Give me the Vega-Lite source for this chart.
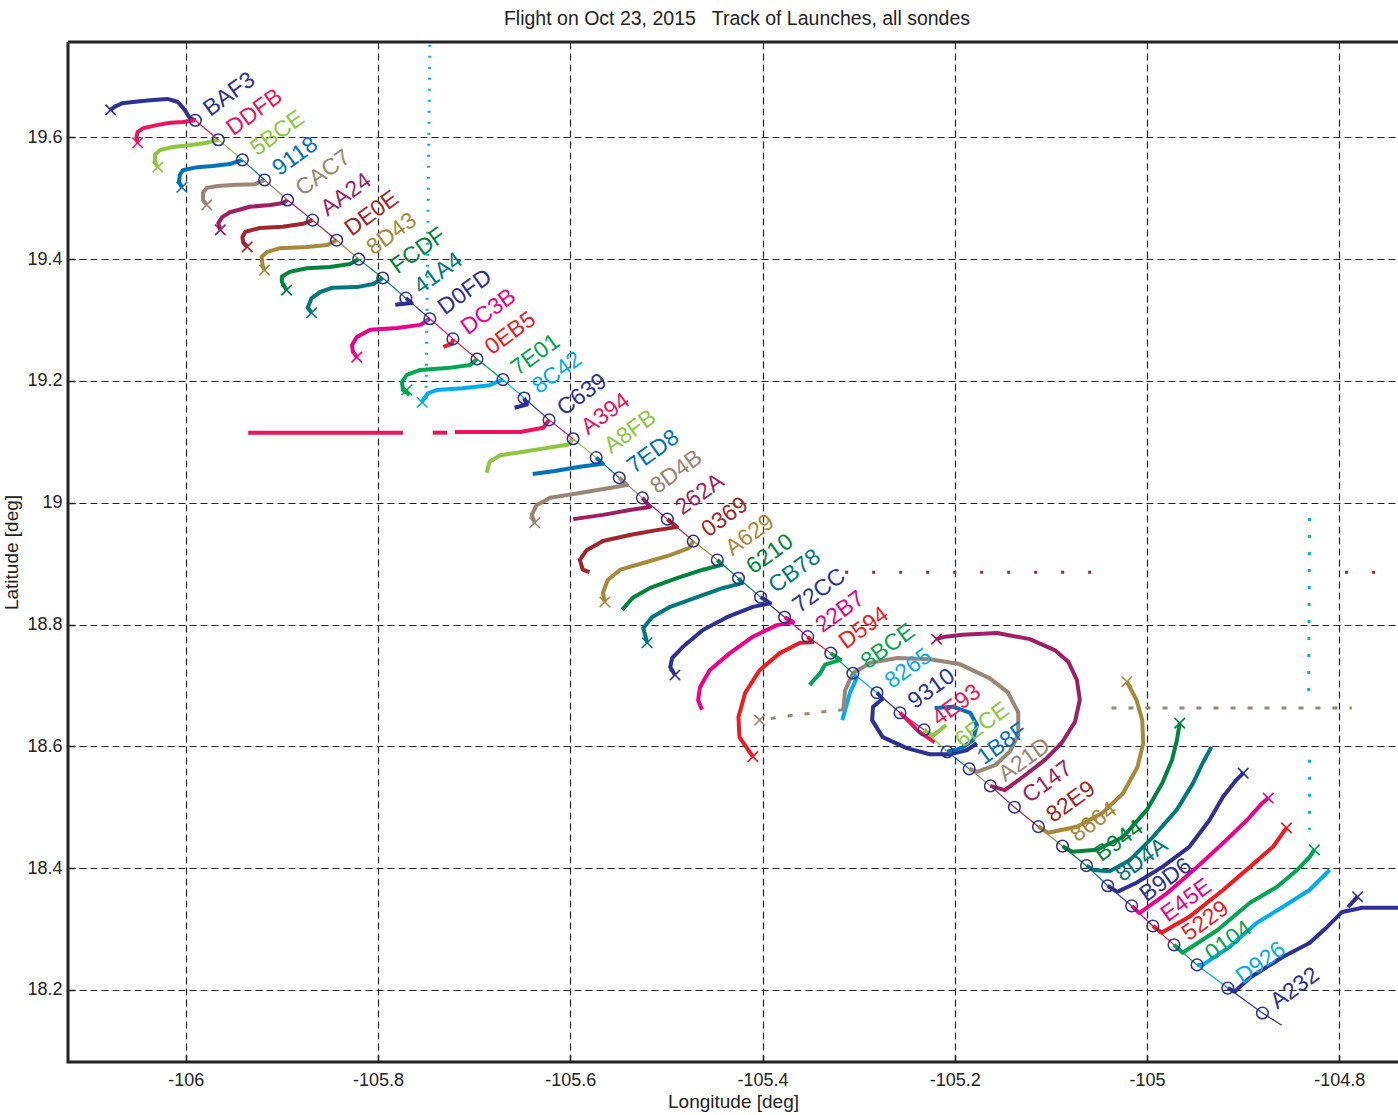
{
"$schema":"https://vega.github.io/schema/vega-lite/v6.json",
"width":1330,"height":1020,
"autosize":{"type":"none"},
"padding":{"left":68,"top":42,"right":0,"bottom":53},
"background":"white",
"title":{"text":"Flight on Oct 23, 2015 \u00a0 Track of Launches, all sondes","fontSize":19.5,"font":"Liberation Sans","fontWeight":"normal","color":"#222","offset":13,"anchor":"middle","dx":4},
"config":{"view":{"stroke":"#222","strokeWidth":3,"strokeDash":[1330,1020,2350,0]}},
"datasets":{
"launch":[
{"n":1,"id":"BAF3","lon":-105.990,"lat":19.628},{"n":2,"id":"DDFB","lon":-105.966,"lat":19.596},{"n":3,"id":"5BCE","lon":-105.941,"lat":19.563},{"n":4,"id":"9118","lon":-105.918,"lat":19.530},{"n":5,"id":"CAC7","lon":-105.894,"lat":19.497},{"n":6,"id":"AA24","lon":-105.868,"lat":19.464},{"n":7,"id":"DE0E","lon":-105.843,"lat":19.431},{"n":8,"id":"8D43","lon":-105.820,"lat":19.400},{"n":9,"id":"FCDF","lon":-105.795,"lat":19.369},{"n":10,"id":"41A4","lon":-105.771,"lat":19.336},
{"n":11,"id":"D0FD","lon":-105.746,"lat":19.302},{"n":12,"id":"DC3B","lon":-105.722,"lat":19.269},{"n":13,"id":"0EB5","lon":-105.697,"lat":19.236},{"n":14,"id":"7E01","lon":-105.670,"lat":19.202},{"n":15,"id":"8C42","lon":-105.648,"lat":19.172},{"n":16,"id":"C639","lon":-105.622,"lat":19.136},{"n":17,"id":"A394","lon":-105.597,"lat":19.105},{"n":18,"id":"A8FB","lon":-105.573,"lat":19.074},{"n":19,"id":"7ED8","lon":-105.549,"lat":19.041},{"n":20,"id":"8D4B","lon":-105.525,"lat":19.008},
{"n":21,"id":"262A","lon":-105.499,"lat":18.973},{"n":22,"id":"0369","lon":-105.472,"lat":18.937},{"n":23,"id":"A629","lon":-105.447,"lat":18.906},{"n":24,"id":"6210","lon":-105.425,"lat":18.876},{"n":25,"id":"CB78","lon":-105.402,"lat":18.845},{"n":26,"id":"72CC","lon":-105.377,"lat":18.812},{"n":27,"id":"22B7","lon":-105.353,"lat":18.780},{"n":28,"id":"D594","lon":-105.329,"lat":18.753},{"n":29,"id":"8BCE","lon":-105.306,"lat":18.720},{"n":30,"id":"8265","lon":-105.281,"lat":18.688},
{"n":31,"id":"9310","lon":-105.257,"lat":18.655},{"n":32,"id":"4E93","lon":-105.232,"lat":18.627},{"n":33,"id":"6ECE","lon":-105.208,"lat":18.591},{"n":34,"id":"1B8F","lon":-105.185,"lat":18.563},{"n":35,"id":"A21D","lon":-105.163,"lat":18.535},{"n":36,"id":"C147","lon":-105.138,"lat":18.500},{"n":37,"id":"82E9","lon":-105.113,"lat":18.468},{"n":38,"id":"8664","lon":-105.088,"lat":18.436},{"n":39,"id":"B944","lon":-105.063,"lat":18.404},{"n":40,"id":"8D4A","lon":-105.041,"lat":18.371},
{"n":41,"id":"B9D6","lon":-105.016,"lat":18.338},{"n":42,"id":"E45E","lon":-104.994,"lat":18.305},{"n":43,"id":"5229","lon":-104.972,"lat":18.274},{"n":44,"id":"0104","lon":-104.948,"lat":18.241},{"n":45,"id":"D926","lon":-104.916,"lat":18.203},{"n":46,"id":"A232","lon":-104.880,"lat":18.162}
],
"traj":[
{"id":"BAF3","k":0,"lon":-105.990,"lat":19.628},{"id":"BAF3","k":1,"lon":-105.996,"lat":19.632},{"id":"BAF3","k":2,"lon":-106.001,"lat":19.645},{"id":"BAF3","k":3,"lon":-106.008,"lat":19.658},{"id":"BAF3","k":4,"lon":-106.019,"lat":19.663},{"id":"BAF3","k":5,"lon":-106.037,"lat":19.661},{"id":"BAF3","k":6,"lon":-106.055,"lat":19.658},{"id":"BAF3","k":7,"lon":-106.066,"lat":19.656},{"id":"BAF3","k":8,"lon":-106.074,"lat":19.650},{"id":"BAF3","k":9,"lon":-106.078,"lat":19.645},
{"id":"DDFB","k":0,"lon":-105.990,"lat":19.628},{"id":"DDFB","k":1,"lon":-106.003,"lat":19.625},{"id":"DDFB","k":2,"lon":-106.016,"lat":19.624},{"id":"DDFB","k":3,"lon":-106.030,"lat":19.620},{"id":"DDFB","k":4,"lon":-106.044,"lat":19.615},{"id":"DDFB","k":5,"lon":-106.050,"lat":19.609},{"id":"DDFB","k":6,"lon":-106.051,"lat":19.601},{"id":"DDFB","k":7,"lon":-106.050,"lat":19.591},
{"id":"5BCE","k":0,"lon":-105.966,"lat":19.596},{"id":"5BCE","k":1,"lon":-105.978,"lat":19.591},{"id":"5BCE","k":2,"lon":-105.996,"lat":19.587},{"id":"5BCE","k":3,"lon":-106.013,"lat":19.584},{"id":"5BCE","k":4,"lon":-106.027,"lat":19.579},{"id":"5BCE","k":5,"lon":-106.032,"lat":19.571},{"id":"5BCE","k":6,"lon":-106.032,"lat":19.560},{"id":"5BCE","k":7,"lon":-106.029,"lat":19.551},
{"id":"9118","k":0,"lon":-105.941,"lat":19.563},{"id":"9118","k":1,"lon":-105.954,"lat":19.556},{"id":"9118","k":2,"lon":-105.972,"lat":19.553},{"id":"9118","k":3,"lon":-105.988,"lat":19.551},{"id":"9118","k":4,"lon":-106.003,"lat":19.546},{"id":"9118","k":5,"lon":-106.006,"lat":19.538},{"id":"9118","k":6,"lon":-106.007,"lat":19.527},{"id":"9118","k":7,"lon":-106.004,"lat":19.518},
{"id":"CAC7","k":0,"lon":-105.918,"lat":19.530},{"id":"CAC7","k":1,"lon":-105.928,"lat":19.523},{"id":"CAC7","k":2,"lon":-105.947,"lat":19.522},{"id":"CAC7","k":3,"lon":-105.967,"lat":19.520},{"id":"CAC7","k":4,"lon":-105.978,"lat":19.517},{"id":"CAC7","k":5,"lon":-105.982,"lat":19.509},{"id":"CAC7","k":6,"lon":-105.982,"lat":19.497},{"id":"CAC7","k":7,"lon":-105.978,"lat":19.489},
{"id":"AA24","k":0,"lon":-105.894,"lat":19.497},{"id":"AA24","k":1,"lon":-105.899,"lat":19.492},{"id":"AA24","k":2,"lon":-105.912,"lat":19.489},{"id":"AA24","k":3,"lon":-105.933,"lat":19.486},{"id":"AA24","k":4,"lon":-105.954,"lat":19.477},{"id":"AA24","k":5,"lon":-105.962,"lat":19.469},{"id":"AA24","k":6,"lon":-105.966,"lat":19.459},{"id":"AA24","k":7,"lon":-105.964,"lat":19.448},
{"id":"DE0E","k":0,"lon":-105.868,"lat":19.464},{"id":"DE0E","k":1,"lon":-105.878,"lat":19.458},{"id":"DE0E","k":2,"lon":-105.899,"lat":19.453},{"id":"DE0E","k":3,"lon":-105.923,"lat":19.451},{"id":"DE0E","k":4,"lon":-105.938,"lat":19.445},{"id":"DE0E","k":5,"lon":-105.941,"lat":19.436},{"id":"DE0E","k":6,"lon":-105.940,"lat":19.427},{"id":"DE0E","k":7,"lon":-105.936,"lat":19.420},
{"id":"8D43","k":0,"lon":-105.843,"lat":19.431},{"id":"8D43","k":1,"lon":-105.853,"lat":19.423},{"id":"8D43","k":2,"lon":-105.874,"lat":19.420},{"id":"8D43","k":3,"lon":-105.902,"lat":19.418},{"id":"8D43","k":4,"lon":-105.915,"lat":19.412},{"id":"8D43","k":5,"lon":-105.921,"lat":19.404},{"id":"8D43","k":6,"lon":-105.920,"lat":19.390},{"id":"8D43","k":7,"lon":-105.918,"lat":19.382},
{"id":"FCDF","k":0,"lon":-105.820,"lat":19.400},{"id":"FCDF","k":1,"lon":-105.829,"lat":19.392},{"id":"FCDF","k":2,"lon":-105.850,"lat":19.387},{"id":"FCDF","k":3,"lon":-105.874,"lat":19.385},{"id":"FCDF","k":4,"lon":-105.892,"lat":19.379},{"id":"FCDF","k":5,"lon":-105.900,"lat":19.371},{"id":"FCDF","k":6,"lon":-105.900,"lat":19.363},{"id":"FCDF","k":7,"lon":-105.895,"lat":19.349},
{"id":"41A4","k":0,"lon":-105.795,"lat":19.369},{"id":"41A4","k":1,"lon":-105.805,"lat":19.359},{"id":"41A4","k":2,"lon":-105.822,"lat":19.354},{"id":"41A4","k":3,"lon":-105.847,"lat":19.353},{"id":"41A4","k":4,"lon":-105.860,"lat":19.346},{"id":"41A4","k":5,"lon":-105.869,"lat":19.336},{"id":"41A4","k":6,"lon":-105.873,"lat":19.320},{"id":"41A4","k":7,"lon":-105.869,"lat":19.312},
{"id":"D0FD","k":0,"lon":-105.771,"lat":19.336},{"id":"D0FD","k":1,"lon":-105.765,"lat":19.328},{"id":"D0FD","k":2,"lon":-105.782,"lat":19.325},
{"id":"DC3B","k":0,"lon":-105.746,"lat":19.302},{"id":"DC3B","k":1,"lon":-105.756,"lat":19.292},{"id":"DC3B","k":2,"lon":-105.780,"lat":19.287},{"id":"DC3B","k":3,"lon":-105.808,"lat":19.284},{"id":"DC3B","k":4,"lon":-105.822,"lat":19.272},{"id":"DC3B","k":5,"lon":-105.827,"lat":19.259},{"id":"DC3B","k":6,"lon":-105.826,"lat":19.248},{"id":"DC3B","k":7,"lon":-105.822,"lat":19.239},
{"id":"0EB5","k":0,"lon":-105.722,"lat":19.269},{"id":"0EB5","k":1,"lon":-105.723,"lat":19.261},{"id":"0EB5","k":2,"lon":-105.732,"lat":19.256},
{"id":"7E01","k":0,"lon":-105.697,"lat":19.236},{"id":"7E01","k":1,"lon":-105.704,"lat":19.226},{"id":"7E01","k":2,"lon":-105.728,"lat":19.221},{"id":"7E01","k":3,"lon":-105.756,"lat":19.218},{"id":"7E01","k":4,"lon":-105.770,"lat":19.210},{"id":"7E01","k":5,"lon":-105.775,"lat":19.198},{"id":"7E01","k":6,"lon":-105.774,"lat":19.185},{"id":"7E01","k":7,"lon":-105.767,"lat":19.177},
{"id":"8C42","k":0,"lon":-105.670,"lat":19.202},{"id":"8C42","k":1,"lon":-105.684,"lat":19.193},{"id":"8C42","k":2,"lon":-105.712,"lat":19.188},{"id":"8C42","k":3,"lon":-105.739,"lat":19.185},{"id":"8C42","k":4,"lon":-105.748,"lat":19.180},{"id":"8C42","k":5,"lon":-105.753,"lat":19.169},{"id":"8C42","k":6,"lon":-105.754,"lat":19.165},
{"id":"C639","k":0,"lon":-105.648,"lat":19.172},{"id":"C639","k":1,"lon":-105.645,"lat":19.161},{"id":"C639","k":2,"lon":-105.658,"lat":19.156},
{"id":"A394","seg":"a","k":0,"lon":-105.622,"lat":19.136},{"id":"A394","seg":"a","k":1,"lon":-105.628,"lat":19.123},{"id":"A394","seg":"a","k":2,"lon":-105.652,"lat":19.116},{"id":"A394","seg":"a","k":3,"lon":-105.684,"lat":19.116},{"id":"A394","seg":"a","k":4,"lon":-105.720,"lat":19.116},
{"id":"A394","seg":"b","k":5,"lon":-105.728,"lat":19.115},{"id":"A394","seg":"b","k":6,"lon":-105.743,"lat":19.115},
{"id":"A394","seg":"c","k":7,"lon":-105.774,"lat":19.115},{"id":"A394","seg":"c","k":8,"lon":-105.935,"lat":19.115},
{"id":"A8FB","k":0,"lon":-105.597,"lat":19.105},{"id":"A8FB","k":1,"lon":-105.603,"lat":19.095},{"id":"A8FB","k":2,"lon":-105.624,"lat":19.090},{"id":"A8FB","k":3,"lon":-105.652,"lat":19.083},{"id":"A8FB","k":4,"lon":-105.673,"lat":19.078},{"id":"A8FB","k":5,"lon":-105.684,"lat":19.067},{"id":"A8FB","k":6,"lon":-105.687,"lat":19.049},
{"id":"7ED8","k":0,"lon":-105.573,"lat":19.074},{"id":"7ED8","k":1,"lon":-105.566,"lat":19.064},{"id":"7ED8","k":2,"lon":-105.590,"lat":19.059},{"id":"7ED8","k":3,"lon":-105.616,"lat":19.052},{"id":"7ED8","k":4,"lon":-105.639,"lat":19.047},
{"id":"8D4B","k":0,"lon":-105.549,"lat":19.041},{"id":"8D4B","k":1,"lon":-105.541,"lat":19.029},{"id":"8D4B","k":2,"lon":-105.559,"lat":19.024},{"id":"8D4B","k":3,"lon":-105.590,"lat":19.016},{"id":"8D4B","k":4,"lon":-105.621,"lat":19.008},{"id":"8D4B","k":5,"lon":-105.635,"lat":18.996},{"id":"8D4B","k":6,"lon":-105.640,"lat":18.980},{"id":"8D4B","k":7,"lon":-105.637,"lat":18.967},
{"id":"262A","k":0,"lon":-105.525,"lat":19.008},{"id":"262A","k":1,"lon":-105.517,"lat":18.993},{"id":"262A","k":2,"lon":-105.538,"lat":18.988},{"id":"262A","k":3,"lon":-105.566,"lat":18.980},{"id":"262A","k":4,"lon":-105.597,"lat":18.973},
{"id":"0369","k":0,"lon":-105.499,"lat":18.973},{"id":"0369","k":1,"lon":-105.489,"lat":18.960},{"id":"0369","k":2,"lon":-105.510,"lat":18.955},{"id":"0369","k":3,"lon":-105.538,"lat":18.947},{"id":"0369","k":4,"lon":-105.566,"lat":18.937},{"id":"0369","k":5,"lon":-105.583,"lat":18.922},{"id":"0369","k":6,"lon":-105.590,"lat":18.906},{"id":"0369","k":7,"lon":-105.587,"lat":18.890},{"id":"0369","k":8,"lon":-105.580,"lat":18.886},
{"id":"A629","k":0,"lon":-105.472,"lat":18.937},{"id":"A629","k":1,"lon":-105.476,"lat":18.926},{"id":"A629","k":2,"lon":-105.496,"lat":18.914},{"id":"A629","k":3,"lon":-105.524,"lat":18.901},{"id":"A629","k":4,"lon":-105.548,"lat":18.890},{"id":"A629","k":5,"lon":-105.561,"lat":18.873},{"id":"A629","k":6,"lon":-105.566,"lat":18.852},{"id":"A629","k":7,"lon":-105.564,"lat":18.837},
{"id":"6210","k":0,"lon":-105.447,"lat":18.906},{"id":"6210","k":1,"lon":-105.442,"lat":18.898},{"id":"6210","k":2,"lon":-105.462,"lat":18.890},{"id":"6210","k":3,"lon":-105.489,"lat":18.876},{"id":"6210","k":4,"lon":-105.517,"lat":18.860},{"id":"6210","k":5,"lon":-105.535,"lat":18.844},{"id":"6210","k":6,"lon":-105.546,"lat":18.824},
{"id":"CB78","k":0,"lon":-105.425,"lat":18.876},{"id":"CB78","k":1,"lon":-105.421,"lat":18.868},{"id":"CB78","k":2,"lon":-105.441,"lat":18.860},{"id":"CB78","k":3,"lon":-105.468,"lat":18.845},{"id":"CB78","k":4,"lon":-105.496,"lat":18.829},{"id":"CB78","k":5,"lon":-105.515,"lat":18.812},{"id":"CB78","k":6,"lon":-105.524,"lat":18.794},{"id":"CB78","k":7,"lon":-105.520,"lat":18.770},
{"id":"72CC","k":0,"lon":-105.402,"lat":18.845},{"id":"72CC","k":1,"lon":-105.392,"lat":18.835},{"id":"72CC","k":2,"lon":-105.410,"lat":18.829},{"id":"72CC","k":3,"lon":-105.437,"lat":18.812},{"id":"72CC","k":4,"lon":-105.462,"lat":18.791},{"id":"72CC","k":5,"lon":-105.483,"lat":18.763},{"id":"72CC","k":6,"lon":-105.494,"lat":18.745},{"id":"72CC","k":7,"lon":-105.496,"lat":18.730},{"id":"72CC","k":8,"lon":-105.491,"lat":18.717},
{"id":"22B7","k":0,"lon":-105.377,"lat":18.812},{"id":"22B7","k":1,"lon":-105.368,"lat":18.804},{"id":"22B7","k":2,"lon":-105.385,"lat":18.799},{"id":"22B7","k":3,"lon":-105.410,"lat":18.780},{"id":"22B7","k":4,"lon":-105.434,"lat":18.753},{"id":"22B7","k":5,"lon":-105.455,"lat":18.725},{"id":"22B7","k":6,"lon":-105.465,"lat":18.697},{"id":"22B7","k":7,"lon":-105.467,"lat":18.676},{"id":"22B7","k":8,"lon":-105.463,"lat":18.660},
{"id":"D594","k":0,"lon":-105.353,"lat":18.780},{"id":"D594","k":1,"lon":-105.348,"lat":18.771},{"id":"D594","k":2,"lon":-105.361,"lat":18.770},{"id":"D594","k":3,"lon":-105.382,"lat":18.753},{"id":"D594","k":4,"lon":-105.403,"lat":18.725},{"id":"D594","k":5,"lon":-105.418,"lat":18.688},{"id":"D594","k":6,"lon":-105.425,"lat":18.648},{"id":"D594","k":7,"lon":-105.424,"lat":18.615},{"id":"D594","k":8,"lon":-105.410,"lat":18.583},
{"id":"8BCE","k":0,"lon":-105.329,"lat":18.753},{"id":"8BCE","k":1,"lon":-105.319,"lat":18.742},{"id":"8BCE","k":2,"lon":-105.335,"lat":18.734},{"id":"8BCE","k":3,"lon":-105.340,"lat":18.720},{"id":"8BCE","k":4,"lon":-105.351,"lat":18.701},
{"id":"8265","k":0,"lon":-105.306,"lat":18.720},{"id":"8265","k":1,"lon":-105.302,"lat":18.712},{"id":"8265","k":2,"lon":-105.309,"lat":18.688},{"id":"8265","k":3,"lon":-105.317,"lat":18.643},
{"id":"9310","k":0,"lon":-105.281,"lat":18.688},{"id":"9310","k":1,"lon":-105.275,"lat":18.678},{"id":"9310","k":2,"lon":-105.285,"lat":18.665},{"id":"9310","k":3,"lon":-105.286,"lat":18.643},{"id":"9310","k":4,"lon":-105.275,"lat":18.615},{"id":"9310","k":5,"lon":-105.250,"lat":18.597},{"id":"9310","k":6,"lon":-105.226,"lat":18.587},{"id":"9310","k":7,"lon":-105.205,"lat":18.587},{"id":"9310","k":8,"lon":-105.187,"lat":18.594},{"id":"9310","k":9,"lon":-105.177,"lat":18.605},
{"id":"4E93","k":0,"lon":-105.257,"lat":18.655},{"id":"4E93","k":1,"lon":-105.249,"lat":18.643},{"id":"4E93","k":2,"lon":-105.238,"lat":18.625},{"id":"4E93","k":3,"lon":-105.221,"lat":18.607},
{"id":"6ECE","k":0,"lon":-105.232,"lat":18.627},{"id":"6ECE","k":1,"lon":-105.223,"lat":18.617},{"id":"6ECE","k":2,"lon":-105.209,"lat":18.635},
{"id":"1B8F","k":0,"lon":-105.208,"lat":18.591},{"id":"1B8F","k":1,"lon":-105.193,"lat":18.597},{"id":"1B8F","k":2,"lon":-105.181,"lat":18.610},{"id":"1B8F","k":3,"lon":-105.177,"lat":18.635},{"id":"1B8F","k":4,"lon":-105.184,"lat":18.655},{"id":"1B8F","k":5,"lon":-105.202,"lat":18.665},{"id":"1B8F","k":6,"lon":-105.221,"lat":18.663},
{"id":"A21D","k":0,"lon":-105.185,"lat":18.563},{"id":"A21D","k":1,"lon":-105.177,"lat":18.558},{"id":"A21D","k":2,"lon":-105.158,"lat":18.569},{"id":"A21D","k":3,"lon":-105.143,"lat":18.591},{"id":"A21D","k":4,"lon":-105.134,"lat":18.619},{"id":"A21D","k":5,"lon":-105.134,"lat":18.656},{"id":"A21D","k":6,"lon":-105.145,"lat":18.689},{"id":"A21D","k":7,"lon":-105.164,"lat":18.712},{"id":"A21D","k":8,"lon":-105.195,"lat":18.735},{"id":"A21D","k":9,"lon":-105.226,"lat":18.743},{"id":"A21D","k":10,"lon":-105.260,"lat":18.745},{"id":"A21D","k":11,"lon":-105.288,"lat":18.737},{"id":"A21D","k":12,"lon":-105.306,"lat":18.720},{"id":"A21D","k":13,"lon":-105.314,"lat":18.692},{"id":"A21D","k":14,"lon":-105.316,"lat":18.660},
{"id":"C147","k":0,"lon":-105.163,"lat":18.535},{"id":"C147","k":1,"lon":-105.148,"lat":18.528},{"id":"C147","k":2,"lon":-105.129,"lat":18.550},{"id":"C147","k":3,"lon":-105.106,"lat":18.578},{"id":"C147","k":4,"lon":-105.089,"lat":18.605},{"id":"C147","k":5,"lon":-105.075,"lat":18.640},{"id":"C147","k":6,"lon":-105.070,"lat":18.676},{"id":"C147","k":7,"lon":-105.073,"lat":18.709},{"id":"C147","k":8,"lon":-105.082,"lat":18.739},{"id":"C147","k":9,"lon":-105.096,"lat":18.758},{"id":"C147","k":10,"lon":-105.122,"lat":18.776},{"id":"C147","k":11,"lon":-105.156,"lat":18.786},{"id":"C147","k":12,"lon":-105.192,"lat":18.783},{"id":"C147","k":13,"lon":-105.210,"lat":18.780},{"id":"C147","k":14,"lon":-105.219,"lat":18.776},
{"id":"8664","k":0,"lon":-105.113,"lat":18.468},{"id":"8664","k":1,"lon":-105.103,"lat":18.458},{"id":"8664","k":2,"lon":-105.073,"lat":18.468},{"id":"8664","k":3,"lon":-105.046,"lat":18.491},{"id":"8664","k":4,"lon":-105.025,"lat":18.523},{"id":"8664","k":5,"lon":-105.010,"lat":18.566},{"id":"8664","k":6,"lon":-105.004,"lat":18.605},{"id":"8664","k":7,"lon":-105.005,"lat":18.643},{"id":"8664","k":8,"lon":-105.011,"lat":18.676},{"id":"8664","k":9,"lon":-105.018,"lat":18.697},{"id":"8664","k":10,"lon":-105.021,"lat":18.706},
{"id":"B944","k":0,"lon":-105.088,"lat":18.436},{"id":"B944","k":1,"lon":-105.078,"lat":18.427},{"id":"B944","k":2,"lon":-105.052,"lat":18.430},{"id":"B944","k":3,"lon":-105.025,"lat":18.451},{"id":"B944","k":4,"lon":-105.000,"lat":18.496},{"id":"B944","k":5,"lon":-104.984,"lat":18.540},{"id":"B944","k":6,"lon":-104.974,"lat":18.578},{"id":"B944","k":7,"lon":-104.969,"lat":18.610},{"id":"B944","k":8,"lon":-104.966,"lat":18.638},
{"id":"8D4A","k":0,"lon":-105.063,"lat":18.404},{"id":"8D4A","k":1,"lon":-105.056,"lat":18.397},{"id":"8D4A","k":2,"lon":-105.039,"lat":18.395},{"id":"8D4A","k":3,"lon":-105.018,"lat":18.413},{"id":"8D4A","k":4,"lon":-104.994,"lat":18.451},{"id":"8D4A","k":5,"lon":-104.969,"lat":18.496},{"id":"8D4A","k":6,"lon":-104.952,"lat":18.540},{"id":"8D4A","k":7,"lon":-104.942,"lat":18.573},{"id":"8D4A","k":8,"lon":-104.933,"lat":18.599},
{"id":"B9D6","k":0,"lon":-105.041,"lat":18.371},{"id":"B9D6","k":1,"lon":-105.031,"lat":18.361},{"id":"B9D6","k":2,"lon":-105.011,"lat":18.376},{"id":"B9D6","k":3,"lon":-104.984,"lat":18.402},{"id":"B9D6","k":4,"lon":-104.956,"lat":18.435},{"id":"B9D6","k":5,"lon":-104.935,"lat":18.479},{"id":"B9D6","k":6,"lon":-104.921,"lat":18.517},{"id":"B9D6","k":7,"lon":-104.907,"lat":18.545},{"id":"B9D6","k":8,"lon":-104.900,"lat":18.556},
{"id":"E45E","k":0,"lon":-105.016,"lat":18.338},{"id":"E45E","k":1,"lon":-105.008,"lat":18.326},{"id":"E45E","k":2,"lon":-104.979,"lat":18.359},{"id":"E45E","k":3,"lon":-104.948,"lat":18.402},{"id":"E45E","k":4,"lon":-104.921,"lat":18.441},{"id":"E45E","k":5,"lon":-104.896,"lat":18.479},{"id":"E45E","k":6,"lon":-104.880,"lat":18.507},{"id":"E45E","k":7,"lon":-104.874,"lat":18.515},
{"id":"5229","k":0,"lon":-104.994,"lat":18.305},{"id":"5229","k":1,"lon":-104.985,"lat":18.294},{"id":"5229","k":2,"lon":-104.956,"lat":18.320},{"id":"5229","k":3,"lon":-104.921,"lat":18.364},{"id":"5229","k":4,"lon":-104.893,"lat":18.402},{"id":"5229","k":5,"lon":-104.869,"lat":18.435},{"id":"5229","k":6,"lon":-104.855,"lat":18.466},
{"id":"0104","k":0,"lon":-104.972,"lat":18.274},{"id":"0104","k":1,"lon":-104.963,"lat":18.261},{"id":"0104","k":2,"lon":-104.927,"lat":18.298},{"id":"0104","k":3,"lon":-104.893,"lat":18.343},{"id":"0104","k":4,"lon":-104.865,"lat":18.369},{"id":"0104","k":5,"lon":-104.844,"lat":18.397},{"id":"0104","k":6,"lon":-104.831,"lat":18.418},{"id":"0104","k":7,"lon":-104.826,"lat":18.430},
{"id":"D926","k":0,"lon":-104.948,"lat":18.241},{"id":"D926","k":1,"lon":-104.942,"lat":18.241},{"id":"D926","k":2,"lon":-104.914,"lat":18.271},{"id":"D926","k":3,"lon":-104.886,"lat":18.310},{"id":"D926","k":4,"lon":-104.859,"lat":18.336},{"id":"D926","k":5,"lon":-104.831,"lat":18.364},{"id":"D926","k":6,"lon":-104.810,"lat":18.397},
{"id":"A232","seg":"a","k":0,"lon":-104.916,"lat":18.203},{"id":"A232","seg":"a","k":1,"lon":-104.909,"lat":18.197},{"id":"A232","seg":"a","k":2,"lon":-104.893,"lat":18.220},{"id":"A232","seg":"a","k":3,"lon":-104.859,"lat":18.254},{"id":"A232","seg":"a","k":4,"lon":-104.831,"lat":18.277},{"id":"A232","seg":"a","k":5,"lon":-104.813,"lat":18.303},{"id":"A232","seg":"a","k":6,"lon":-104.797,"lat":18.328},{"id":"A232","seg":"a","k":7,"lon":-104.776,"lat":18.335},{"id":"A232","seg":"a","k":8,"lon":-104.732,"lat":18.335},
{"id":"A232","seg":"b","k":9,"lon":-104.791,"lat":18.336},{"id":"A232","seg":"b","k":10,"lon":-104.781,"lat":18.353}
],
"glitch":[
{"id":"8C42","seg":"a","k":0,"lon":-105.746,"lat":19.752},{"id":"8C42","seg":"a","k":1,"lon":-105.750,"lat":19.169},
{"id":"D926","seg":"a","k":0,"lon":-104.831,"lat":18.975},{"id":"D926","seg":"a","k":1,"lon":-104.832,"lat":18.668},
{"id":"D926","seg":"b","k":2,"lon":-104.831,"lat":18.578},{"id":"D926","seg":"b","k":3,"lon":-104.831,"lat":18.463},
{"id":"A21D","seg":"a","k":0,"lon":-105.316,"lat":18.660},{"id":"A21D","seg":"a","k":1,"lon":-105.340,"lat":18.656},{"id":"A21D","seg":"a","k":2,"lon":-105.372,"lat":18.650},{"id":"A21D","seg":"a","k":3,"lon":-105.403,"lat":18.643},
{"id":"A21D","seg":"b","k":4,"lon":-105.037,"lat":18.663},{"id":"A21D","seg":"b","k":5,"lon":-104.787,"lat":18.663},
{"id":"82E9","seg":"a","k":0,"lon":-105.314,"lat":18.886},{"id":"82E9","seg":"a","k":1,"lon":-105.036,"lat":18.886},
{"id":"82E9","seg":"b","k":2,"lon":-104.794,"lat":18.886},{"id":"82E9","seg":"b","k":3,"lon":-104.758,"lat":18.886}
],
"ends":[
{"id":"BAF3","lon":-106.078,"lat":19.645},{"id":"DDFB","lon":-106.050,"lat":19.591},{"id":"5BCE","lon":-106.029,"lat":19.551},{"id":"9118","lon":-106.004,"lat":19.518},{"id":"CAC7","lon":-105.978,"lat":19.489},{"id":"AA24","lon":-105.964,"lat":19.448},{"id":"DE0E","lon":-105.936,"lat":19.420},{"id":"8D43","lon":-105.918,"lat":19.382},{"id":"FCDF","lon":-105.895,"lat":19.349},{"id":"41A4","lon":-105.869,"lat":19.312},
{"id":"DC3B","lon":-105.822,"lat":19.239},{"id":"7E01","lon":-105.770,"lat":19.185},{"id":"8C42","lon":-105.754,"lat":19.165},{"id":"8D4B","lon":-105.637,"lat":18.967},{"id":"A629","lon":-105.564,"lat":18.837},{"id":"CB78","lon":-105.520,"lat":18.770},{"id":"72CC","lon":-105.491,"lat":18.717},{"id":"D594","lon":-105.410,"lat":18.583},{"id":"A21D","lon":-105.403,"lat":18.643},{"id":"C147","lon":-105.219,"lat":18.776},
{"id":"8664","lon":-105.021,"lat":18.706},{"id":"B944","lon":-104.966,"lat":18.638},{"id":"B9D6","lon":-104.900,"lat":18.556},{"id":"E45E","lon":-104.874,"lat":18.515},{"id":"5229","lon":-104.855,"lat":18.466},{"id":"0104","lon":-104.826,"lat":18.430},{"id":"A232","lon":-104.781,"lat":18.353}
],
"trackend":[{"id":"A232","lon":-104.880,"lat":18.162,"lon2":-104.860,"lat2":18.142}]
},
"encoding":{
"x":{"field":"lon","type":"quantitative","scale":{"domain":[-106.1224,-104.739],"nice":false,"zero":false},
 "axis":{"orient":"bottom","values":[-106,-105.8,-105.6,-105.4,-105.2,-105,-104.8],"labelExpr":"'' + datum.value","title":"Longitude [deg]","grid":true,"gridDash":[7,4],"gridColor":"#222","gridWidth":1.2,"gridOpacity":1,"domain":false,"ticks":true,"tickSize":-7,"tickColor":"#222","tickWidth":1.5,"labelFontSize":18,"labelFont":"Liberation Sans","labelColor":"#222","labelPadding":16,"titleFontSize":19,"titleFont":"Liberation Sans","titleFontWeight":"normal","titleColor":"#222","titlePadding":3}},
"y":{"field":"lat","type":"quantitative","scale":{"domain":[18.0816,19.7565],"nice":false,"zero":false},
 "axis":{"orient":"left","values":[18.2,18.4,18.6,18.8,19,19.2,19.4,19.6],"labelExpr":"'' + datum.value","title":"Latitude [deg]","grid":true,"gridDash":[7,4],"gridColor":"#222","gridWidth":1.2,"gridOpacity":1,"domain":false,"ticks":true,"tickSize":-7,"tickColor":"#222","tickWidth":1.5,"labelFontSize":18,"labelFont":"Liberation Sans","labelColor":"#222","labelPadding":13,"titleFontSize":19,"titleFont":"Liberation Sans","titleFontWeight":"normal","titleColor":"#222","titlePadding":5}},
"color":{"field":"id","type":"nominal","legend":null,"scale":{
"domain":["BAF3","DDFB","5BCE","9118","CAC7","AA24","DE0E","8D43","FCDF","41A4","D0FD","DC3B","0EB5","7E01","8C42","C639","A394","A8FB","7ED8","8D4B","262A","0369","A629","6210","CB78","72CC","22B7","D594","8BCE","8265","9310","4E93","6ECE","1B8F","A21D","C147","82E9","8664","B944","8D4A","B9D6","E45E","5229","0104","D926","A232"],
"range":["#2e3192","#ed145b","#8dc63f","#0072bc","#998675","#9e1f63","#a1262b","#a68a3a","#00843d","#00797c","#2e3192","#ec008c","#ed1c24","#00a651","#00aeef","#2e3192","#ed145b","#8dc63f","#0072bc","#998675","#9e1f63","#a1262b","#a68a3a","#00843d","#00797c","#2e3192","#ec008c","#ed1c24","#00a651","#00aeef","#2e3192","#ed145b","#8dc63f","#0072bc","#998675","#9e1f63","#a1262b","#a68a3a","#00843d","#00797c","#2e3192","#ec008c","#ed1c24","#00a651","#00aeef","#2e3192"]}}
},
"layer":[
{"data":{"name":"traj"},
 "mark":{"type":"line","strokeWidth":4,"clip":true,"strokeJoin":"round"},
 "encoding":{"detail":{"field":"seg"},"order":{"field":"k","type":"quantitative"}}},
{"data":{"name":"launch"},
 "transform":[{"window":[{"op":"lag","field":"lon","as":"plon"},{"op":"lag","field":"lat","as":"plat"}],"sort":[{"field":"n"}]},{"filter":"datum.plon != null"}],
 "mark":{"type":"rule","strokeWidth":1.2},
 "encoding":{
  "x":{"field":"plon","type":"quantitative",
   "axis":{"orient":"bottom","values":[-106,-105.8,-105.6,-105.4,-105.2,-105,-104.8],"labelExpr":"'' + datum.value","title":"Longitude [deg]","grid":true,"gridDash":[7,4],"gridColor":"#222","gridWidth":1.2,"gridOpacity":1,"domain":false,"ticks":true,"tickSize":-7,"tickColor":"#222","tickWidth":1.5,"labelFontSize":18,"labelFont":"Liberation Sans","labelColor":"#222","labelPadding":16,"titleFontSize":19,"titleFont":"Liberation Sans","titleFontWeight":"normal","titleColor":"#222","titlePadding":3}},
  "y":{"field":"plat","type":"quantitative",
   "axis":{"orient":"left","values":[18.2,18.4,18.6,18.8,19,19.2,19.4,19.6],"labelExpr":"'' + datum.value","title":"Latitude [deg]","grid":true,"gridDash":[7,4],"gridColor":"#222","gridWidth":1.2,"gridOpacity":1,"domain":false,"ticks":true,"tickSize":-7,"tickColor":"#222","tickWidth":1.5,"labelFontSize":18,"labelFont":"Liberation Sans","labelColor":"#222","labelPadding":13,"titleFontSize":19,"titleFont":"Liberation Sans","titleFontWeight":"normal","titleColor":"#222","titlePadding":5}},
  "x2":{"field":"lon"},"y2":{"field":"lat"}}},
{"data":{"name":"trackend"},
 "mark":{"type":"rule","strokeWidth":1.2},
 "encoding":{"x2":{"field":"lon2"},"y2":{"field":"lat2"}}},
{"data":{"name":"glitch"},
 "mark":{"type":"line","strokeWidth":3,"clip":true},
 "encoding":{"detail":{"field":"seg"},"order":{"field":"k","type":"quantitative"},
  "strokeDash":{"field":"id","type":"nominal","legend":null,"scale":{"domain":["8C42","D926","A21D","82E9"],"range":[[2,9],[3,14],[5,12],[3,24]]}}}},
{"data":{"name":"launch"},
 "mark":{"type":"point","shape":"circle","filled":false,"size":135,"strokeWidth":1.5,"opacity":1},
 "encoding":{"color":{"value":"#2e3192"}}},
{"data":{"name":"ends"},
 "mark":{"type":"point","shape":"M-1,-1L1,1M-1,1L1,-1","filled":false,"size":110,"strokeWidth":1.6,"opacity":1,"clip":true}},
{"data":{"name":"launch"},
 "mark":{"type":"text","angle":-36,"align":"left","baseline":"alphabetic","dx":14,"dy":6,"fontSize":23,"font":"Liberation Sans"},
 "encoding":{"text":{"field":"id"}}}
]
}
